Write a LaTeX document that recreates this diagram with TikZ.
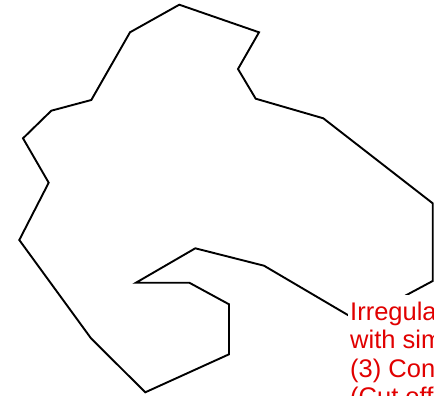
\documentclass[tikz,border=0pt]{standalone}
\usepackage{fontspec}
\setmainfont{Liberation Sans}
\usepackage{xcolor}
\usepackage{tikz}
\definecolor{notered}{RGB}{225,0,0}

\begin{document}
\begin{tikzpicture}[x=1pt, y=-1pt,
  outline/.style={draw=black, line width=1.9pt, line join=miter},
  notetext/.style={fill=white, text=notered, align=left, anchor=north west, inner xsep=2pt, inner ysep=6.5pt, font=\fontsize{25.5}{28.5}\selectfont}]
\useasboundingbox (0,0) rectangle (434,396);
\clip (0,0) rectangle (434,396);
% irregular outline
\draw[outline] (179.3,4.7) -- (259,32.3) -- (238,69) -- (255.7,98.7) -- (323.3,118.3)
  -- (432.7,203.3) -- (432.7,281) -- (358,321) -- (264,265.7) -- (195.3,248.3)
  -- (136,282.7) -- (189.3,282.7) -- (229,304.3) -- (229,354.3) -- (145.3,392.3)
  -- (91,338.3) -- (19.3,240) -- (48.7,182.7) -- (23,138.3) -- (51.3,110.7)
  -- (91.3,100) -- (130,32.3) -- cycle;
\node[notetext] (note) at (348,295) {Irregular polygon\\with simple edges\\(3) Concave\\(Cut off)};
\end{tikzpicture}
\end{document}
